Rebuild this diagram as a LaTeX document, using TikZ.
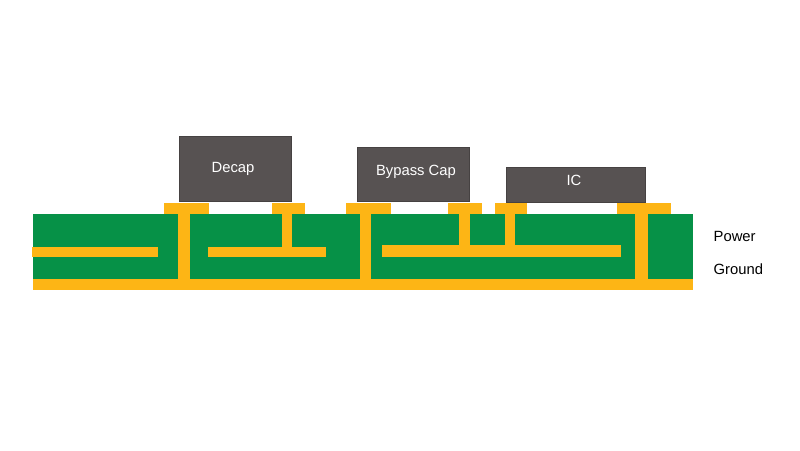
\documentclass[tikz,border=0pt]{standalone}
\usepackage{fontspec}
\setmainfont{Liberation Sans}

\definecolor{boardgreen}{HTML}{069147}
\definecolor{coppergold}{HTML}{FDB515}
\definecolor{chipgray}{HTML}{575252}

\begin{document}
\begin{tikzpicture}[
  x=1pt,
  y=-1pt,
  line cap=butt
]

  \tikzset{
    board/.style={fill=boardgreen},
    copper/.style={fill=coppergold},
    chip/.style={fill=chipgray, draw=chipgray!80!black, line width=.6pt},
    chiplabel/.style={text=white, font=\fontsize{14.8}{15}\selectfont, inner sep=0pt},
    planelabel/.style={text=black, font=\fontsize{14.8}{15}\selectfont, inner sep=0pt, anchor=west}
  }

  % helper macros
  \def\pad#1#2{%
    \fill[copper] (#1,203) rectangle (#2,214);
  }

  \def\via#1#2#3{%
    \fill[copper] (#1,214) rectangle (#2,#3);
  }

  \def\trace#1#2#3#4{%
    \fill[copper] (#1,#3) rectangle (#2,#4);
  }

  \useasboundingbox (0,0) rectangle (800,450);

  % board and ground plane
  \fill[board] (33,214) rectangle (693,279);
  \fill[copper] (33,279) rectangle (693,290);

  % power plane pieces
  \trace{32}{158}{247}{257}
  \trace{208}{326}{247}{257}
  \trace{382}{621}{245}{257}

  % vias
  \foreach \a/\b/\e in {178/190/279,282/292/247,360/371/279,458.5/469.5/245,505/515/245,635/648/279} {
    \via{\a}{\b}{\e}
  }

  % pads
  \foreach \a/\b in {164/209,271.5/304.5,346/391,448/481.5,494.5/527,617/671} {
    \pad{\a}{\b}
  }

  % parts
  \draw[chip] (179,136.5) rectangle (291.7,201.5);
  \draw[chip] (357,147.5) rectangle (469.7,201.5);
  \draw[chip] (506,167) rectangle (645.7,202.5);

  \node[chiplabel] (decap) at (233,169) {Decap};
  \node[chiplabel] (bypass) at (416,172) {Bypass Cap};
  \node[chiplabel] (ic) at (574,180) {IC};

  % plane names
  \node[planelabel] (power) at (713.5,236.5) {Power};
  \node[planelabel] (ground) at (713.5,269.5) {Ground};

\end{tikzpicture}
\end{document}
